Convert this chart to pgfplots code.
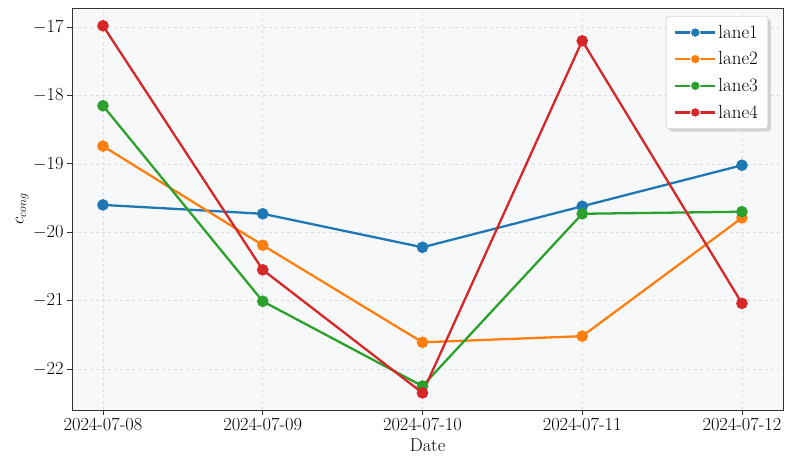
\documentclass[border=0pt]{standalone}
\usepackage{fontspec}
\usepackage{pgfplots}
\pgfplotsset{compat=1.18}
\usetikzlibrary{shadows}
\definecolor{c1}{HTML}{1F77B4}
\definecolor{c2}{HTML}{FF7F0E}
\definecolor{c3}{HTML}{2CA02C}
\definecolor{c4}{HTML}{D62728}
\definecolor{bg}{HTML}{F7F8FA}
\definecolor{gridc}{HTML}{DDDDDD}
\definecolor{axc}{HTML}{333333}
\begin{document}
\begin{tikzpicture}
\begin{axis}[
  name=ax,
  scale only axis,
  width=711bp, height=402bp,
  xmin=-0.194, xmax=4.257,
  ymin=-22.60, ymax=-16.72,
  axis background/.style={fill=bg},
  axis line style={axc, line width=0.9pt},
  xtick={0,1,2,3,4},
  xticklabels={2024-07-08,2024-07-09,2024-07-10,2024-07-11,2024-07-12},
  ytick={-22,-21,-20,-19,-18,-17},
  yticklabels={$-$22,$-$21,$-$20,$-$19,$-$18,$-$17},
  tick align=outside,
  tick pos=left,
  major tick length=5bp,
  tick style={axc, line width=0.8pt},
  grid=major,
  grid style={gridc, dashed, line width=0.5pt},
  ticklabel style={font=\fontsize{18.5}{21}\selectfont},
  label style={font=\fontsize{18.5}{21}\selectfont},
  xlabel={Date},
  ylabel={$c_{cong}$},
  xlabel style={yshift=-1bp},
  ylabel style={yshift=-2bp},
  legend style={at={(0.979,0.98)}, anchor=north east, font=\fontsize{19}{21}\selectfont,
    draw=gray!50, fill=white, rounded corners=3pt, drop shadow={shadow xshift=3bp, shadow yshift=-3bp, fill=gray!60},
    row sep=8bp, inner xsep=8bp, inner ysep=7bp,
    /tikz/every even column/.append style={column sep=9bp}},
  legend cell align=left,
  legend image code/.code={
    \pgfsetlinewidth{2.3pt}
    \pgfpathmoveto{\pgfqpoint{0bp}{0bp}}\pgfpathlineto{\pgfqpoint{40bp}{0bp}}\pgfusepath{stroke}
    \pgfsetstrokecolor{white}\pgfsetlinewidth{0.9pt}
    \pgfpathcircle{\pgfqpoint{20bp}{0bp}}{4.8bp}\pgfusepath{fill,stroke}
  },
  every axis plot/.append style={line width=2.3pt, mark=*, mark size=4.6bp, mark options={draw=white, line width=0.9pt}},
]
\addplot[c1, mark options={fill=c1}] coordinates {(0,-19.60) (1,-19.73) (2,-20.22) (3,-19.62) (4,-19.02)};
\addlegendentry{lane1}
\addplot[c2, mark options={fill=c2}] coordinates {(0,-18.74) (1,-20.19) (2,-21.61) (3,-21.52) (4,-19.79)};
\addlegendentry{lane2}
\addplot[c3, mark options={fill=c3}] coordinates {(0,-18.15) (1,-21.01) (2,-22.25) (3,-19.73) (4,-19.70)};
\addlegendentry{lane3}
\addplot[c4, mark options={fill=c4}] coordinates {(0,-16.98) (1,-20.55) (2,-22.35) (3,-17.20) (4,-21.04)};
\addlegendentry{lane4}
\end{axis}
\path[use as bounding box] ([shift={(-72bp,-59bp)}]ax.south west) rectangle ([shift={(10bp,8bp)}]ax.north east);
\end{tikzpicture}
\end{document}
